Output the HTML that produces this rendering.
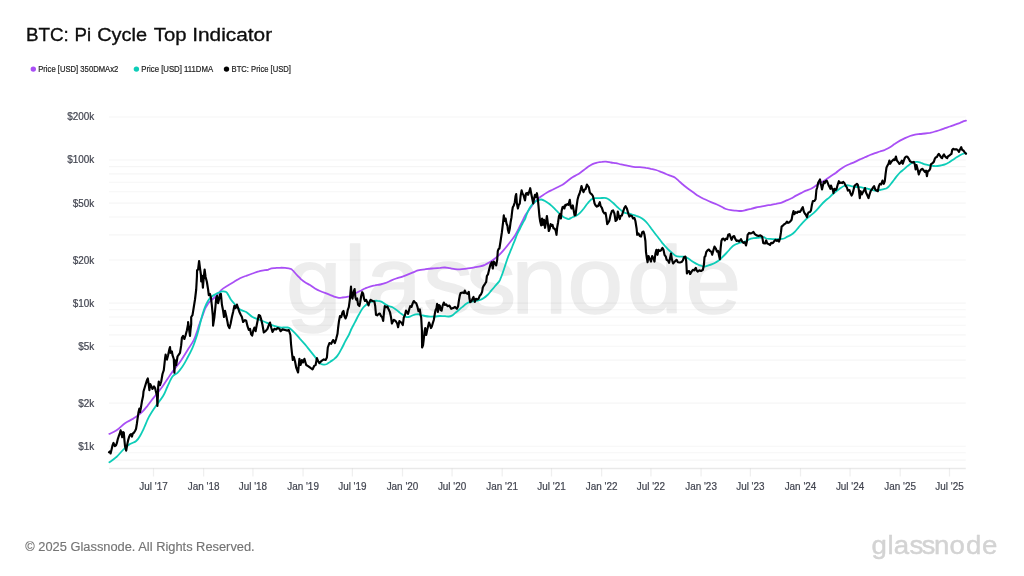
<!DOCTYPE html>
<html lang="en">
<head>
<meta charset="utf-8">
<title>BTC: Pi Cycle Top Indicator</title>
<style>
html,body{margin:0;padding:0;background:#fff;}
body{width:1024px;height:576px;overflow:hidden;position:relative;font-family:"Liberation Sans",Arial,sans-serif;}
#chart{position:absolute;left:0;top:0;width:1024px;height:576px;display:block;}
#chart text{font-family:"Liberation Sans",Arial,sans-serif;white-space:pre;}
</style>
</head>
<body>
<svg id="chart" width="1024" height="576" viewBox="0 0 1024 576">
<defs><filter id="soft" x="-5%" y="-5%" width="110%" height="110%"><feGaussianBlur stdDeviation="0.35"/></filter></defs>
<rect width="1024" height="576" fill="#fff"/>
<g filter="url(#soft)">
<g id="watermark">
<text transform="scale(1.05 1)" x="272.27 327.52 348.70 403.19 444.12 487.08 540.37 597.27 652.84" y="313.5" font-size="95" fill="#ededed" stroke="#ededed" stroke-width="1.6" stroke-linejoin="round">glassnode</text>
</g>
<g id="grid" stroke="#000" stroke-opacity="0.04" stroke-width="1.1">
<line x1="109" x2="965.8" y1="116.97" y2="116.97"/>
<line x1="109" x2="965.8" y1="160.05" y2="160.05"/>
<line x1="109" x2="965.8" y1="166.60" y2="166.60"/>
<line x1="109" x2="965.8" y1="173.92" y2="173.92"/>
<line x1="109" x2="965.8" y1="182.22" y2="182.22"/>
<line x1="109" x2="965.8" y1="191.80" y2="191.80"/>
<line x1="109" x2="965.8" y1="203.13" y2="203.13"/>
<line x1="109" x2="965.8" y1="217.00" y2="217.00"/>
<line x1="109" x2="965.8" y1="234.87" y2="234.87"/>
<line x1="109" x2="965.8" y1="260.07" y2="260.07"/>
<line x1="109" x2="965.8" y1="303.15" y2="303.15"/>
<line x1="109" x2="965.8" y1="309.70" y2="309.70"/>
<line x1="109" x2="965.8" y1="317.02" y2="317.02"/>
<line x1="109" x2="965.8" y1="325.32" y2="325.32"/>
<line x1="109" x2="965.8" y1="334.90" y2="334.90"/>
<line x1="109" x2="965.8" y1="346.23" y2="346.23"/>
<line x1="109" x2="965.8" y1="360.10" y2="360.10"/>
<line x1="109" x2="965.8" y1="377.97" y2="377.97"/>
<line x1="109" x2="965.8" y1="403.17" y2="403.17"/>
<line x1="109" x2="965.8" y1="446.25" y2="446.25"/>
<line x1="109" x2="965.8" y1="452.80" y2="452.80"/>
<line x1="109" x2="965.8" y1="460.12" y2="460.12"/>
</g>
<g id="ticks" stroke="#000" stroke-opacity="0.062" stroke-width="1.3">
<line x1="153.50" x2="153.50" y1="468.5" y2="476.5"/>
<line x1="203.63" x2="203.63" y1="468.5" y2="476.5"/>
<line x1="252.93" x2="252.93" y1="468.5" y2="476.5"/>
<line x1="303.06" x2="303.06" y1="468.5" y2="476.5"/>
<line x1="352.37" x2="352.37" y1="468.5" y2="476.5"/>
<line x1="402.49" x2="402.49" y1="468.5" y2="476.5"/>
<line x1="452.07" x2="452.07" y1="468.5" y2="476.5"/>
<line x1="502.20" x2="502.20" y1="468.5" y2="476.5"/>
<line x1="551.51" x2="551.51" y1="468.5" y2="476.5"/>
<line x1="601.63" x2="601.63" y1="468.5" y2="476.5"/>
<line x1="650.94" x2="650.94" y1="468.5" y2="476.5"/>
<line x1="701.06" x2="701.06" y1="468.5" y2="476.5"/>
<line x1="750.37" x2="750.37" y1="468.5" y2="476.5"/>
<line x1="800.50" x2="800.50" y1="468.5" y2="476.5"/>
<line x1="850.08" x2="850.08" y1="468.5" y2="476.5"/>
<line x1="900.20" x2="900.20" y1="468.5" y2="476.5"/>
<line x1="949.51" x2="949.51" y1="468.5" y2="476.5"/>
</g>
<g id="axis" stroke="#000" stroke-opacity="0.086" stroke-width="1.3">
<line x1="109" x2="965.8" y1="468.5" y2="468.5"/>
</g>
<g id="labels" transform="scale(0.955 1)" font-size="10.4" fill="#41444f" stroke="#41444f" stroke-width="0.2">
<text x="98.64" y="120.42" text-anchor="end">$200k</text>
<text x="98.64" y="163.50" text-anchor="end">$100k</text>
<text x="98.64" y="206.58" text-anchor="end">$50k</text>
<text x="98.64" y="263.52" text-anchor="end">$20k</text>
<text x="98.64" y="306.60" text-anchor="end">$10k</text>
<text x="98.64" y="349.68" text-anchor="end">$5k</text>
<text x="98.64" y="406.62" text-anchor="end">$2k</text>
<text x="98.64" y="449.70" text-anchor="end">$1k</text>
<text x="160.73" y="490.0" text-anchor="middle">Jul '17</text>
<text x="213.22" y="490.0" text-anchor="middle">Jan '18</text>
<text x="264.85" y="490.0" text-anchor="middle">Jul '18</text>
<text x="317.34" y="490.0" text-anchor="middle">Jan '19</text>
<text x="368.97" y="490.0" text-anchor="middle">Jul '19</text>
<text x="421.46" y="490.0" text-anchor="middle">Jan '20</text>
<text x="473.37" y="490.0" text-anchor="middle">Jul '20</text>
<text x="525.86" y="490.0" text-anchor="middle">Jan '21</text>
<text x="577.49" y="490.0" text-anchor="middle">Jul '21</text>
<text x="629.98" y="490.0" text-anchor="middle">Jan '22</text>
<text x="681.61" y="490.0" text-anchor="middle">Jul '22</text>
<text x="734.10" y="490.0" text-anchor="middle">Jan '23</text>
<text x="785.73" y="490.0" text-anchor="middle">Jul '23</text>
<text x="838.22" y="490.0" text-anchor="middle">Jan '24</text>
<text x="890.13" y="490.0" text-anchor="middle">Jul '24</text>
<text x="942.62" y="490.0" text-anchor="middle">Jan '25</text>
<text x="994.25" y="490.0" text-anchor="middle">Jul '25</text>
</g>
<g id="series" fill="none" stroke-linejoin="round" stroke-linecap="round">
<path stroke="#a950f5" stroke-width="1.8" d="M109.4 433.9 C110.5 433.3 113.6 432.4 116.2 430.6 C118.9 428.8 122.3 425.2 125.0 423.2 C127.7 421.3 130.4 420.4 132.5 419.1 C134.6 417.9 135.8 417.0 137.5 415.8 C139.2 414.5 140.8 413.3 142.5 411.6 C144.2 410.0 145.8 407.8 147.5 405.8 C149.2 403.7 151.2 400.7 152.5 399.1 C153.8 397.5 153.3 398.1 155.0 396.0 C156.7 393.9 160.0 390.0 162.5 386.5 C165.0 383.0 167.9 378.3 170.0 375.2 C172.1 372.2 173.1 370.9 175.0 368.4 C176.9 365.9 179.2 363.3 181.2 360.2 C183.3 357.2 185.4 353.6 187.5 350.2 C189.6 346.9 192.1 343.6 193.8 340.2 C195.4 336.9 196.6 333.0 197.5 330.2 C198.4 327.5 198.5 326.4 199.4 324.0 C200.2 321.6 201.6 318.3 202.5 315.8 C203.4 313.2 204.2 310.8 205.0 308.9 C205.8 307.0 206.7 305.8 207.5 304.5 C208.3 303.2 208.8 302.6 210.0 301.4 C211.2 300.1 213.1 298.9 215.0 297.0 C216.9 295.1 219.2 292.0 221.2 290.1 C223.3 288.2 225.4 287.1 227.5 285.8 C229.6 284.4 231.7 283.2 233.8 282.0 C235.8 280.8 237.9 279.3 240.0 278.2 C242.1 277.2 244.2 276.5 246.2 275.8 C248.3 275.0 250.4 274.2 252.5 273.5 C254.6 272.8 256.7 271.9 258.8 271.4 C260.8 270.8 263.5 270.4 265.0 270.1 C266.5 269.9 267.2 270.1 268.0 269.9 C268.8 269.7 268.8 269.0 270.0 268.8 C271.2 268.5 273.3 268.3 275.0 268.1 C276.7 268.0 278.3 267.8 280.0 267.8 C281.7 267.7 283.5 267.8 285.0 267.9 C286.5 268.0 287.7 268.2 288.8 268.4 C289.8 268.6 290.4 268.5 291.2 269.0 C292.1 269.5 292.7 270.4 293.8 271.5 C294.8 272.6 296.2 274.3 297.5 275.6 C298.8 276.9 300.0 278.3 301.2 279.4 C302.5 280.5 303.5 281.3 305.0 282.2 C306.5 283.2 308.3 284.0 310.0 285.0 C311.7 286.0 313.3 287.5 315.0 288.5 C316.7 289.5 318.3 290.3 320.0 291.0 C321.7 291.7 323.3 292.3 325.0 292.9 C326.7 293.5 328.3 294.1 330.0 294.8 C331.7 295.4 333.5 296.4 335.0 296.9 C336.5 297.4 337.5 297.6 338.8 297.8 C340.0 297.9 341.0 297.7 342.5 297.5 C344.0 297.3 346.8 296.9 348.0 296.6 C349.2 296.4 348.8 296.5 350.0 296.0 C351.2 295.5 353.3 294.3 355.0 293.5 C356.7 292.7 358.3 291.8 360.0 291.0 C361.7 290.2 363.3 289.2 365.0 288.5 C366.7 287.8 368.3 287.1 370.0 286.6 C371.7 286.1 373.3 285.7 375.0 285.4 C376.7 285.0 378.3 284.9 380.0 284.5 C381.7 284.1 383.3 283.8 385.0 283.2 C386.7 282.7 388.1 281.8 390.0 281.0 C391.9 280.2 394.2 279.2 396.2 278.5 C398.3 277.8 400.4 277.4 402.5 276.6 C404.6 275.9 406.7 275.0 408.8 274.1 C410.8 273.3 413.5 272.2 415.0 271.6 C416.5 271.0 416.3 270.8 418.0 270.4 C419.7 270.0 422.7 269.6 425.0 269.3 C427.3 269.0 429.5 268.7 432.0 268.5 C434.5 268.3 437.8 268.0 440.0 267.9 C442.2 267.7 443.3 267.4 445.0 267.5 C446.7 267.6 448.3 268.0 450.0 268.2 C451.7 268.5 453.3 268.9 455.0 269.1 C456.7 269.3 458.3 269.4 460.0 269.4 C461.7 269.3 463.3 269.1 465.0 268.9 C466.7 268.7 468.3 268.5 470.0 268.2 C471.7 268.0 473.3 267.6 475.0 267.2 C476.7 266.9 478.3 266.8 480.0 266.4 C481.7 266.0 483.3 265.5 485.0 264.8 C486.7 264.0 488.3 263.0 490.0 262.0 C491.7 261.0 493.3 259.8 495.0 258.5 C496.7 257.2 498.3 255.8 500.0 254.1 C501.7 252.5 503.3 250.5 505.0 248.5 C506.7 246.5 508.3 244.4 510.0 242.2 C511.7 240.1 513.5 237.7 515.0 235.4 C516.5 233.1 517.5 230.9 518.8 228.5 C520.0 226.1 521.4 223.3 522.5 221.0 C523.6 218.7 524.4 216.8 525.6 214.8 C526.9 212.7 528.6 210.5 530.0 208.5 C531.4 206.5 532.5 204.4 533.8 202.9 C535.0 201.3 536.0 200.4 537.5 199.1 C539.0 197.9 540.8 196.5 542.5 195.4 C544.2 194.2 545.8 193.2 547.5 192.2 C549.2 191.3 550.8 190.6 552.5 189.8 C554.2 188.9 555.8 188.1 557.5 187.2 C559.2 186.4 560.8 185.8 562.5 184.8 C564.2 183.7 565.8 182.2 567.5 181.0 C569.2 179.8 570.8 178.3 572.5 177.2 C574.2 176.2 575.8 175.5 577.5 174.5 C579.2 173.5 580.8 172.2 582.5 171.0 C584.2 169.8 585.8 168.4 587.5 167.2 C589.2 166.1 590.8 164.9 592.5 164.1 C594.2 163.3 595.9 162.9 597.5 162.5 C599.1 162.1 600.5 161.9 601.9 161.8 C603.3 161.6 604.5 161.5 606.0 161.6 C607.5 161.7 609.3 162.2 611.0 162.5 C612.7 162.8 614.3 162.8 616.0 163.1 C617.7 163.4 619.1 164.0 621.0 164.4 C622.9 164.8 625.2 165.2 627.2 165.6 C629.3 166.0 631.4 166.6 633.5 166.9 C635.6 167.2 637.7 167.1 639.8 167.2 C641.8 167.4 644.1 167.5 646.0 167.8 C647.9 168.0 649.3 168.4 651.0 168.8 C652.7 169.1 654.3 169.5 656.0 170.0 C657.7 170.5 659.3 171.2 661.0 171.9 C662.7 172.5 664.3 173.3 666.0 174.0 C667.7 174.7 669.5 175.3 671.0 175.9 C672.5 176.5 673.5 176.7 674.8 177.5 C676.0 178.3 677.0 179.4 678.5 180.6 C680.0 181.9 681.8 183.6 683.5 185.0 C685.2 186.4 686.8 187.8 688.5 189.0 C690.2 190.2 691.8 191.3 693.5 192.5 C695.2 193.7 696.8 195.0 698.5 196.0 C700.2 197.0 701.8 197.9 703.5 198.8 C705.2 199.6 706.8 200.3 708.5 201.0 C710.2 201.7 711.8 202.4 713.5 203.1 C715.2 203.8 716.8 204.4 718.5 205.2 C720.2 206.1 722.8 207.5 724.0 208.1 C725.2 208.7 724.8 208.6 726.0 209.0 C727.2 209.4 729.3 210.0 731.0 210.2 C732.7 210.5 734.3 210.5 736.0 210.6 C737.7 210.7 739.3 211.1 741.0 211.0 C742.7 210.9 744.3 210.4 746.0 210.0 C747.7 209.6 749.3 209.2 751.0 208.8 C752.7 208.3 754.3 207.9 756.0 207.5 C757.7 207.1 759.3 206.9 761.0 206.6 C762.7 206.3 764.3 205.9 766.0 205.6 C767.7 205.3 769.3 205.1 771.0 204.8 C772.7 204.4 774.3 204.1 776.0 203.8 C777.7 203.4 779.3 203.4 781.0 202.9 C782.7 202.4 784.3 201.3 786.0 200.6 C787.7 199.9 789.3 199.3 791.0 198.5 C792.7 197.7 794.3 196.5 796.0 195.6 C797.7 194.7 799.3 194.0 801.0 193.1 C802.7 192.3 804.3 191.3 806.0 190.6 C807.7 189.9 809.3 189.6 811.0 188.8 C812.7 187.9 814.3 186.7 816.0 185.6 C817.7 184.6 819.3 183.5 821.0 182.5 C822.7 181.5 824.3 180.5 826.0 179.4 C827.7 178.3 829.3 177.1 831.0 176.0 C832.7 174.9 834.5 173.9 836.0 172.8 C837.5 171.6 838.5 170.5 840.0 169.4 C841.5 168.3 843.3 167.1 845.0 166.2 C846.7 165.4 848.3 164.7 850.0 164.0 C851.7 163.3 853.3 162.7 855.0 161.9 C856.7 161.1 858.3 160.2 860.0 159.4 C861.7 158.6 863.3 158.0 865.0 157.2 C866.7 156.5 868.3 155.7 870.0 155.0 C871.7 154.3 873.3 153.7 875.0 153.1 C876.7 152.5 878.3 152.1 880.0 151.5 C881.7 150.9 883.3 150.5 885.0 149.8 C886.7 149.0 888.3 148.2 890.0 147.2 C891.7 146.2 893.3 144.9 895.0 143.8 C896.7 142.6 898.3 141.6 900.0 140.6 C901.7 139.7 903.3 138.9 905.0 138.1 C906.7 137.3 908.3 136.6 910.0 136.0 C911.7 135.4 913.3 135.0 915.0 134.6 C916.7 134.3 918.3 134.2 920.0 134.0 C921.7 133.8 923.3 133.7 925.0 133.5 C926.7 133.3 928.3 133.1 930.0 132.8 C931.7 132.4 933.3 132.0 935.0 131.5 C936.7 131.0 938.3 130.6 940.0 130.0 C941.7 129.4 943.3 128.7 945.0 128.1 C946.7 127.5 948.3 127.1 950.0 126.5 C951.7 125.9 953.3 125.2 955.0 124.6 C956.7 124.0 958.5 123.3 960.0 122.8 C961.5 122.2 962.8 121.6 963.8 121.2 C964.8 120.9 965.6 120.7 966.0 120.6"/>
<path stroke="#0ecdb8" stroke-width="1.8" d="M109.4 462.2 C110.5 461.4 113.9 459.4 116.2 457.2 C118.6 455.1 121.5 451.3 123.8 449.1 C126.0 446.9 127.9 445.5 130.0 444.1 C132.1 442.8 134.6 442.4 136.2 441.0 C137.9 439.6 138.8 438.1 140.0 436.0 C141.2 433.9 142.3 431.6 143.8 428.5 C145.2 425.4 146.9 420.8 148.8 417.2 C150.6 413.7 152.6 410.8 155.0 407.2 C157.4 403.7 161.0 399.5 163.1 396.0 C165.2 392.5 165.9 389.8 167.5 386.5 C169.1 383.2 170.8 378.8 172.5 376.5 C174.2 374.2 175.8 374.4 177.5 372.8 C179.2 371.1 180.8 369.0 182.5 366.5 C184.2 364.0 185.8 360.9 187.5 357.8 C189.2 354.6 191.0 351.1 192.5 347.8 C194.0 344.4 195.2 340.9 196.2 337.8 C197.3 334.6 198.1 331.3 198.8 329.0 C199.4 326.7 199.4 326.4 200.0 324.0 C200.6 321.6 201.7 317.3 202.5 314.5 C203.3 311.7 204.1 309.3 205.0 307.0 C205.9 304.7 207.1 302.4 208.1 300.8 C209.2 299.1 210.1 298.0 211.2 297.0 C212.4 296.0 213.8 295.2 215.0 294.5 C216.2 293.8 217.5 293.1 218.8 292.6 C220.0 292.1 221.2 291.5 222.5 291.4 C223.8 291.3 225.2 291.3 226.2 292.0 C227.3 292.7 227.9 294.4 228.8 295.8 C229.6 297.1 230.2 298.7 231.2 300.1 C232.3 301.6 233.5 302.9 235.0 304.5 C236.5 306.1 238.1 308.2 240.0 309.5 C241.9 310.8 244.2 310.8 246.2 312.0 C248.3 313.2 250.4 315.8 252.5 317.0 C254.6 318.2 256.7 318.7 258.8 319.5 C260.8 320.3 263.5 321.4 265.0 322.0 C266.5 322.6 267.2 322.9 268.0 323.2 C268.8 323.6 268.8 323.9 270.0 324.4 C271.2 324.9 273.3 325.7 275.0 326.2 C276.7 326.8 278.1 327.3 280.0 327.5 C281.9 327.7 284.7 327.4 286.2 327.5 C287.8 327.6 287.9 327.2 289.4 328.1 C290.8 329.1 293.2 331.3 295.0 333.1 C296.8 334.9 298.3 336.9 300.0 338.8 C301.7 340.6 303.3 342.4 305.0 344.4 C306.7 346.4 308.3 348.5 310.0 350.6 C311.7 352.7 313.6 355.1 315.0 356.9 C316.4 358.7 317.2 360.1 318.1 361.2 C319.1 362.4 319.7 363.2 320.6 363.8 C321.6 364.3 322.7 364.6 323.8 364.6 C324.8 364.7 325.8 364.5 326.9 364.0 C327.9 363.5 328.9 362.6 330.0 361.9 C331.1 361.1 332.5 360.4 333.8 359.4 C335.0 358.3 336.2 357.3 337.5 355.6 C338.8 354.0 340.0 351.7 341.2 349.4 C342.5 347.1 343.8 344.3 345.0 341.9 C346.2 339.5 347.6 337.3 348.8 335.0 C349.9 332.7 350.8 330.1 351.9 328.0 C352.9 325.9 353.9 324.5 355.0 322.2 C356.1 320.0 357.5 317.0 358.8 314.8 C360.0 312.5 361.2 310.2 362.5 308.5 C363.8 306.8 365.0 305.8 366.2 304.8 C367.5 303.7 368.8 302.9 370.0 302.2 C371.2 301.6 372.5 301.2 373.8 301.0 C375.0 300.8 376.2 300.6 377.5 300.8 C378.8 300.9 380.0 301.1 381.2 301.6 C382.5 302.2 383.8 303.4 385.0 304.1 C386.2 304.9 387.5 305.5 388.8 306.0 C390.0 306.5 391.2 306.6 392.5 307.2 C393.8 307.9 395.0 308.8 396.2 309.8 C397.5 310.7 398.8 311.9 400.0 312.9 C401.2 313.8 402.7 314.7 403.8 315.4 C404.8 316.1 405.2 316.8 406.2 317.0 C407.3 317.2 408.8 317.0 410.0 316.6 C411.2 316.2 412.4 315.2 413.8 314.8 C415.1 314.3 416.8 314.1 418.0 314.1 C419.2 314.2 420.1 314.7 421.2 315.0 C422.4 315.3 423.5 315.7 425.0 316.0 C426.5 316.3 428.3 316.5 430.0 316.6 C431.7 316.7 433.3 316.6 435.0 316.5 C436.7 316.4 438.3 316.0 440.0 316.0 C441.7 316.0 443.5 316.2 445.0 316.2 C446.5 316.3 447.6 316.6 448.8 316.5 C449.9 316.4 450.8 316.2 451.9 315.6 C452.9 315.1 453.9 314.1 455.0 313.1 C456.1 312.2 457.5 311.0 458.8 310.0 C460.0 309.0 461.2 307.9 462.5 306.9 C463.8 305.8 465.0 304.6 466.2 303.8 C467.5 302.9 468.5 302.3 470.0 301.9 C471.5 301.4 473.3 301.3 475.0 301.0 C476.7 300.7 478.5 300.5 480.0 300.0 C481.5 299.5 482.5 299.0 483.8 298.1 C485.0 297.3 486.2 296.2 487.5 295.0 C488.8 293.8 490.0 292.1 491.2 290.6 C492.5 289.2 493.8 287.7 495.0 286.2 C496.2 284.8 497.9 283.0 498.8 281.9 C499.6 280.8 499.4 281.1 500.0 279.8 C500.6 278.4 501.7 275.8 502.5 273.5 C503.3 271.2 504.2 268.5 505.0 266.0 C505.8 263.5 506.7 260.8 507.5 258.5 C508.3 256.2 509.2 254.3 510.0 252.2 C510.8 250.2 511.7 248.1 512.5 246.0 C513.3 243.9 514.2 241.8 515.0 239.8 C515.8 237.7 516.7 235.4 517.5 233.5 C518.3 231.6 519.2 230.2 520.0 228.5 C520.8 226.8 521.7 225.1 522.5 223.5 C523.3 221.9 524.3 220.6 525.0 219.1 C525.7 217.7 525.8 216.5 526.5 214.8 C527.2 213.0 528.4 210.3 529.4 208.5 C530.4 206.7 531.4 205.4 532.5 204.1 C533.6 202.9 535.4 201.6 536.2 201.0 C537.1 200.4 536.7 200.6 537.5 200.4 C538.3 200.1 540.0 199.4 541.2 199.5 C542.5 199.6 543.8 200.3 545.0 201.0 C546.2 201.7 547.5 202.6 548.8 203.5 C550.0 204.4 551.2 205.5 552.5 206.6 C553.8 207.8 555.0 209.1 556.2 210.4 C557.5 211.6 558.8 213.0 560.0 214.1 C561.2 215.3 562.5 216.5 563.8 217.2 C565.0 218.0 566.7 218.4 567.5 218.8 C568.3 219.1 567.9 219.4 568.8 219.1 C569.6 218.9 571.2 217.8 572.5 217.2 C573.8 216.7 575.0 216.5 576.2 215.8 C577.5 215.0 578.8 214.1 580.0 212.9 C581.2 211.7 582.5 210.1 583.8 208.5 C585.0 206.9 586.2 205.0 587.5 203.5 C588.8 202.0 590.0 200.4 591.2 199.5 C592.5 198.6 593.5 198.5 595.0 198.2 C596.5 198.0 598.1 198.1 600.0 198.1 C601.9 198.1 604.6 197.7 606.2 198.1 C607.9 198.5 608.8 199.5 610.0 200.4 C611.2 201.3 612.5 202.4 613.8 203.5 C615.0 204.6 616.2 206.1 617.5 207.2 C618.8 208.4 620.0 209.4 621.2 210.4 C622.5 211.3 623.8 212.4 625.0 212.9 C626.2 213.4 627.5 213.2 628.8 213.5 C630.0 213.8 631.2 214.4 632.5 214.8 C633.8 215.1 635.0 215.3 636.2 215.8 C637.5 216.2 638.8 216.6 640.0 217.2 C641.2 217.9 642.5 218.7 643.8 219.8 C645.0 220.8 646.2 222.0 647.5 223.5 C648.8 225.0 650.0 226.8 651.2 228.5 C652.5 230.2 653.9 232.0 655.0 233.5 C656.1 235.0 656.8 235.7 658.0 237.2 C659.2 238.8 660.9 241.2 662.2 242.9 C663.6 244.5 664.8 245.9 666.0 247.2 C667.2 248.6 668.5 249.9 669.8 251.0 C671.0 252.1 672.5 253.3 673.5 254.1 C674.5 255.0 675.0 255.6 676.0 256.0 C677.0 256.4 678.5 256.5 679.8 256.6 C681.0 256.7 682.2 256.4 683.5 256.6 C684.8 256.8 686.0 257.3 687.2 257.9 C688.5 258.5 689.8 259.5 691.0 260.4 C692.2 261.2 693.5 262.2 694.8 262.9 C696.0 263.6 697.2 264.2 698.5 264.8 C699.8 265.3 701.2 265.7 702.2 266.0 C703.3 266.3 703.7 266.7 704.8 266.6 C705.8 266.5 707.2 265.8 708.5 265.4 C709.8 265.0 711.0 264.6 712.2 264.1 C713.5 263.6 714.8 263.0 716.0 262.2 C717.2 261.5 718.5 260.8 719.8 259.8 C721.0 258.7 722.2 257.2 723.5 256.0 C724.8 254.8 726.0 253.6 727.2 252.2 C728.5 250.9 729.8 249.1 731.0 247.9 C732.2 246.6 733.5 245.5 734.8 244.8 C736.0 244.0 737.2 243.7 738.5 243.2 C739.8 242.8 741.0 242.6 742.2 242.2 C743.5 241.9 744.8 241.5 746.0 241.0 C747.2 240.5 748.5 239.6 749.8 239.1 C751.0 238.7 752.2 238.5 753.5 238.2 C754.8 238.0 756.0 238.0 757.2 237.9 C758.5 237.8 759.9 237.6 761.0 237.5 C762.1 237.4 763.1 237.1 764.0 237.2 C764.9 237.4 765.2 238.2 766.2 238.5 C767.2 238.8 768.5 238.8 770.0 238.9 C771.5 239.0 773.3 239.1 775.0 239.1 C776.7 239.2 778.5 239.2 780.0 239.1 C781.5 239.0 782.5 238.9 783.8 238.5 C785.0 238.1 786.2 237.2 787.5 236.6 C788.8 236.0 790.0 235.6 791.2 234.8 C792.5 233.9 793.8 232.9 795.0 231.6 C796.2 230.4 797.5 228.7 798.8 227.2 C800.0 225.8 801.2 224.2 802.5 222.9 C803.8 221.5 805.0 220.3 806.2 219.1 C807.5 218.0 808.8 217.0 810.0 216.0 C811.2 215.0 812.5 214.0 813.8 212.9 C815.0 211.7 816.2 210.5 817.5 209.1 C818.8 207.8 820.0 206.1 821.2 204.8 C822.5 203.4 823.8 202.1 825.0 201.0 C826.2 199.9 827.3 199.1 828.8 197.9 C830.2 196.6 832.1 194.7 833.5 193.5 C834.9 192.3 836.0 191.6 837.2 190.6 C838.5 189.7 839.9 188.5 841.0 187.8 C842.1 187.0 842.9 186.4 844.0 186.0 C845.1 185.6 846.3 185.2 847.5 185.2 C848.7 185.3 850.0 186.0 851.2 186.2 C852.5 186.5 853.5 186.7 855.0 186.9 C856.5 187.0 858.3 187.0 860.0 187.2 C861.7 187.5 863.5 187.8 865.0 188.1 C866.5 188.4 867.5 188.7 868.8 189.0 C870.0 189.3 871.2 189.7 872.5 190.0 C873.8 190.3 875.0 190.6 876.2 190.6 C877.5 190.6 878.8 190.2 880.0 190.0 C881.2 189.8 882.7 189.4 883.8 189.1 C884.8 188.9 885.4 188.9 886.2 188.5 C887.1 188.1 887.7 187.6 888.8 186.5 C889.8 185.4 891.2 183.5 892.5 181.9 C893.8 180.3 895.0 178.4 896.2 176.9 C897.5 175.3 898.8 173.8 900.0 172.5 C901.2 171.2 902.5 170.4 903.8 169.4 C905.0 168.3 906.4 167.2 907.5 166.2 C908.6 165.3 909.6 164.4 910.6 163.8 C911.7 163.1 912.6 162.6 913.8 162.2 C914.9 161.9 916.2 161.8 917.5 161.9 C918.8 162.0 920.0 162.5 921.2 162.9 C922.5 163.3 923.5 164.0 925.0 164.4 C926.5 164.8 928.5 165.1 930.0 165.4 C931.5 165.7 932.5 165.9 933.8 166.0 C935.0 166.1 936.2 166.1 937.5 166.0 C938.8 165.9 940.0 165.7 941.2 165.4 C942.5 165.1 943.8 164.9 945.0 164.4 C946.2 163.9 947.5 163.2 948.8 162.5 C950.0 161.8 951.2 160.8 952.5 160.0 C953.8 159.2 955.0 158.3 956.2 157.5 C957.5 156.7 958.8 155.9 960.0 155.2 C961.2 154.6 962.8 153.9 963.8 153.5 C964.8 153.1 965.6 153.2 966.0 153.1"/>
<path stroke="#000" stroke-width="2.15" d="M109.0 452.2 L109.8 451.5 L110.6 453.5 L111.5 449.8 L112.5 445.4 L113.5 442.9 L114.8 446.2 L116.0 445.4 L116.9 442.9 L117.8 439.1 L118.8 436.0 L119.8 433.5 L120.6 430.4 L121.5 433.5 L122.2 437.2 L123.1 432.0 L123.8 432.5 L124.4 439.8 L125.0 446.0 L125.6 448.5 L126.2 450.6 L127.2 444.8 L128.1 440.4 L129.0 437.2 L130.0 434.8 L131.0 434.1 L131.9 436.6 L132.8 433.5 L133.8 432.9 L135.0 431.0 L136.0 429.1 L136.9 423.5 L137.5 419.1 L138.5 412.2 L139.4 408.5 L140.0 412.2 L141.0 407.2 L141.9 401.6 L143.1 396.0 L143.5 391.5 L145.0 386.5 L146.9 380.2 L147.8 378.4 L148.8 385.2 L149.4 390.2 L150.2 384.0 L151.2 385.9 L152.5 389.0 L154.0 386.5 L155.0 387.8 L156.2 392.8 L157.0 396.0 L157.4 405.9 L157.9 396.0 L158.2 386.5 L158.8 381.5 L160.0 385.2 L161.2 381.5 L162.5 374.0 L163.8 370.2 L165.0 359.0 L165.6 354.6 L166.9 359.6 L168.1 355.2 L169.4 349.0 L170.0 347.1 L170.6 352.8 L171.9 351.5 L172.5 355.2 L173.8 359.0 L174.4 372.8 L175.0 360.2 L176.2 365.2 L177.5 356.5 L178.8 354.6 L180.0 352.8 L181.2 345.2 L181.9 337.8 L183.1 335.9 L184.4 339.0 L185.6 335.2 L186.9 330.2 L188.1 324.0 L188.1 322.0 L190.0 335.9 L190.6 329.0 L191.2 324.0 L191.2 317.0 L192.5 315.1 L193.8 307.0 L195.0 299.5 L196.2 289.5 L196.9 277.0 L197.1 270.1 L198.1 269.5 L199.1 261.0 L200.0 268.2 L200.9 274.5 L201.2 281.4 L202.1 275.8 L202.9 287.6 L203.8 277.0 L204.6 269.5 L205.6 277.0 L206.9 282.0 L208.1 289.5 L208.8 295.1 L210.0 293.9 L211.0 298.2 L211.9 305.8 L212.8 315.8 L213.1 325.6 L214.4 317.0 L215.4 307.0 L216.2 298.2 L217.1 295.8 L218.1 303.2 L219.0 299.5 L220.0 294.5 L220.9 293.9 L221.9 304.5 L223.1 310.8 L224.0 317.0 L225.0 310.8 L226.2 315.8 L227.5 322.0 L228.1 325.6 L229.4 328.1 L230.6 323.8 L231.9 317.0 L233.1 312.0 L234.4 305.8 L235.6 308.2 L236.9 304.5 L238.1 308.2 L239.4 312.0 L240.6 314.5 L241.9 317.0 L243.1 322.0 L245.0 320.1 L246.2 320.8 L247.5 326.2 L248.8 330.0 L250.0 328.8 L251.2 334.4 L252.2 335.6 L253.1 331.2 L254.4 327.5 L255.6 331.2 L256.5 326.2 L257.5 321.2 L258.8 315.0 L260.0 315.6 L261.2 319.4 L262.5 325.0 L263.8 332.5 L265.6 331.2 L267.5 328.8 L268.8 325.0 L270.0 322.5 L271.2 327.5 L272.5 331.9 L274.4 328.8 L276.2 329.4 L277.5 328.1 L279.4 328.8 L280.6 331.2 L282.5 329.4 L285.0 330.0 L287.5 330.6 L288.8 330.0 L290.4 335.0 L291.0 343.8 L291.9 352.5 L292.8 360.0 L293.8 356.9 L295.0 361.2 L296.2 367.5 L298.1 372.5 L299.4 358.8 L300.6 365.0 L301.9 360.0 L303.1 362.5 L304.4 358.8 L306.2 365.0 L308.1 366.2 L310.0 367.5 L312.5 369.4 L314.4 365.6 L315.6 365.0 L316.9 358.1 L318.1 361.2 L319.4 363.1 L321.2 361.2 L323.8 359.4 L325.6 360.0 L326.9 357.5 L327.8 347.5 L329.4 343.1 L331.2 343.8 L333.1 340.0 L334.8 343.1 L336.2 338.8 L337.5 333.8 L338.1 328.0 L339.0 321.0 L340.0 316.0 L341.2 317.2 L342.5 312.2 L343.5 311.0 L344.4 316.0 L345.6 318.5 L346.9 314.8 L347.8 309.8 L348.8 307.2 L349.8 299.8 L350.4 293.5 L351.0 286.6 L351.6 297.2 L352.5 298.5 L353.5 292.2 L354.6 289.1 L355.4 297.2 L356.2 299.8 L357.1 298.5 L358.1 304.8 L359.4 306.0 L360.2 302.2 L361.2 296.0 L362.2 292.2 L363.1 293.5 L364.0 298.5 L365.0 301.0 L366.2 299.8 L367.5 302.9 L368.5 305.4 L369.4 302.2 L370.6 299.8 L372.5 301.0 L374.4 301.6 L375.2 306.0 L376.0 314.8 L377.2 315.4 L378.5 314.1 L379.8 313.5 L381.0 316.0 L382.2 317.2 L383.2 321.0 L384.0 312.2 L384.8 306.0 L386.2 307.2 L387.5 306.6 L388.8 309.8 L390.0 312.2 L391.0 317.2 L391.9 323.5 L393.8 319.8 L395.6 321.0 L397.2 323.5 L398.1 327.2 L399.4 321.0 L401.2 322.5 L402.8 325.0 L403.8 317.5 L405.0 315.0 L406.0 310.6 L407.2 312.5 L408.1 313.8 L409.4 308.8 L410.2 306.2 L411.5 306.9 L412.5 303.8 L413.8 301.0 L415.0 302.5 L416.2 303.1 L417.5 306.9 L418.5 311.2 L419.8 309.4 L420.6 315.0 L421.2 317.5 L421.9 330.0 L422.1 347.5 L423.1 345.0 L423.8 338.8 L424.4 332.5 L425.2 328.1 L426.2 335.0 L427.2 330.0 L428.1 326.2 L429.0 322.5 L430.0 325.0 L431.0 328.1 L431.9 326.2 L432.8 323.1 L433.8 320.0 L434.8 313.8 L435.6 310.0 L436.5 308.1 L437.1 303.8 L437.9 311.9 L438.8 305.0 L439.8 305.6 L440.6 310.0 L441.6 310.6 L442.5 306.2 L443.8 302.5 L445.0 305.0 L446.2 304.4 L447.5 306.2 L449.4 305.6 L451.2 308.8 L453.1 308.1 L455.0 306.9 L456.9 308.8 L458.1 306.2 L459.0 300.0 L459.8 295.6 L460.6 293.1 L462.5 292.5 L464.0 293.1 L464.8 290.6 L466.0 293.1 L467.5 293.8 L468.8 291.9 L469.5 298.8 L470.2 302.2 L471.5 301.2 L472.5 298.8 L473.5 296.9 L474.8 301.9 L475.9 298.8 L477.2 299.4 L478.5 298.8 L479.8 295.6 L481.0 294.4 L482.1 291.9 L482.8 287.5 L483.8 285.6 L485.0 283.8 L486.2 281.9 L486.9 276.0 L488.1 274.1 L489.4 268.5 L490.6 264.1 L491.9 262.2 L492.8 268.5 L493.8 261.6 L495.0 263.5 L496.2 265.4 L497.2 259.8 L497.8 251.0 L498.5 249.1 L499.4 248.5 L500.6 241.0 L501.9 232.2 L503.1 222.2 L503.8 215.4 L504.6 221.0 L505.6 218.5 L506.5 223.5 L507.5 226.0 L507.9 229.8 L508.8 232.9 L509.8 228.5 L510.6 222.2 L511.5 217.2 L512.2 211.0 L512.8 207.2 L513.8 205.4 L514.8 202.2 L515.6 196.0 L516.2 194.1 L516.9 203.5 L517.9 208.5 L518.8 204.8 L519.8 203.5 L520.6 196.0 L521.6 190.4 L522.5 193.5 L523.4 194.8 L524.4 198.5 L525.0 200.4 L526.0 193.5 L527.2 192.9 L528.1 194.8 L529.1 192.2 L530.2 188.2 L531.2 193.5 L532.2 198.5 L533.2 203.5 L534.1 198.5 L535.0 194.8 L535.9 197.2 L536.9 193.2 L537.8 198.5 L538.5 206.0 L539.4 216.0 L540.2 221.6 L541.2 225.4 L542.1 218.5 L543.1 224.8 L544.0 219.8 L545.0 227.9 L546.0 222.2 L546.9 216.0 L547.8 222.9 L548.8 231.0 L549.8 228.5 L550.6 224.1 L551.6 226.0 L552.5 224.8 L553.5 228.5 L554.6 228.5 L555.6 230.4 L556.5 234.8 L557.2 227.2 L558.1 222.2 L559.0 216.0 L560.0 214.1 L560.9 218.5 L561.6 211.0 L562.5 207.2 L563.5 206.6 L564.4 208.5 L565.4 204.8 L566.2 205.4 L567.2 204.1 L568.5 204.8 L569.8 199.8 L570.6 206.0 L571.6 208.5 L572.8 205.4 L573.8 211.0 L574.6 215.4 L575.6 214.8 L576.5 207.2 L577.5 199.8 L578.5 196.0 L579.6 193.5 L580.6 189.8 L581.5 186.0 L582.5 189.8 L583.5 192.2 L584.4 189.8 L585.6 189.1 L586.9 184.5 L587.8 186.0 L588.8 187.2 L589.8 192.2 L590.6 193.5 L591.6 194.1 L592.9 196.0 L593.8 199.8 L594.6 203.5 L595.6 205.4 L596.9 206.6 L598.1 206.0 L599.8 202.2 L600.6 206.0 L601.9 207.9 L603.1 211.6 L604.4 213.5 L605.6 212.9 L606.5 218.5 L607.2 224.1 L608.5 222.2 L609.4 220.4 L610.6 214.8 L611.9 211.0 L613.1 210.4 L614.4 213.5 L615.6 221.0 L616.9 219.8 L617.8 211.6 L618.8 216.0 L619.8 219.1 L620.6 216.0 L621.9 215.4 L623.1 211.6 L624.4 207.9 L625.6 206.2 L626.9 208.5 L628.1 212.9 L629.4 216.6 L630.6 215.4 L631.9 216.0 L633.1 218.5 L634.4 217.9 L635.4 221.0 L636.6 228.5 L637.2 234.8 L638.5 233.5 L639.8 236.0 L641.0 236.6 L642.2 232.2 L643.5 231.6 L644.5 234.8 L645.4 241.0 L646.0 252.2 L646.9 258.5 L647.6 262.2 L648.5 256.0 L649.8 259.1 L651.0 261.6 L652.2 256.0 L653.5 258.5 L654.5 261.6 L655.4 253.5 L656.4 249.8 L657.5 254.8 L658.5 249.8 L659.8 251.0 L661.0 250.4 L662.5 247.9 L663.5 249.8 L664.5 254.8 L665.8 256.6 L666.6 259.8 L667.9 260.4 L669.1 262.9 L670.0 258.5 L671.0 253.5 L672.0 259.8 L673.1 263.5 L674.8 261.6 L676.6 259.8 L677.9 262.2 L679.8 262.5 L681.6 262.0 L682.9 260.4 L683.9 257.2 L685.4 256.6 L686.2 261.0 L686.9 273.5 L687.9 271.6 L689.1 271.0 L690.1 274.1 L691.6 271.6 L692.9 269.8 L694.1 270.4 L695.8 267.9 L696.6 270.4 L697.9 271.6 L699.1 270.4 L701.0 271.0 L702.9 269.8 L703.9 264.8 L704.5 257.2 L705.4 256.0 L706.2 252.2 L707.5 250.4 L708.8 249.5 L710.0 251.0 L711.2 251.6 L712.2 254.8 L713.5 249.8 L714.5 246.6 L715.8 248.5 L717.0 251.6 L718.1 251.0 L719.1 256.0 L719.8 259.1 L720.6 248.5 L721.4 241.0 L722.2 239.1 L723.5 238.5 L724.8 240.4 L726.0 238.5 L727.2 239.1 L728.2 234.8 L729.5 234.1 L730.6 237.2 L731.6 239.8 L732.9 236.6 L734.1 236.0 L735.4 239.1 L736.6 241.0 L737.9 240.4 L739.1 241.6 L741.0 239.1 L742.2 241.6 L743.5 242.9 L744.8 242.2 L746.0 245.4 L747.0 241.0 L747.6 234.8 L749.1 232.9 L750.4 233.5 L752.0 232.9 L753.5 232.0 L754.8 234.1 L756.6 235.4 L758.5 236.0 L760.4 235.4 L762.2 236.6 L763.2 242.9 L763.4 243.2 L765.0 243.5 L766.2 240.4 L767.2 243.5 L768.8 244.1 L770.0 245.0 L771.2 242.9 L772.8 243.2 L774.4 241.0 L775.6 239.8 L776.9 240.8 L778.1 239.8 L779.0 241.6 L780.0 238.5 L781.0 232.2 L781.6 226.6 L783.1 225.4 L784.4 224.1 L785.6 223.5 L786.9 221.6 L788.1 222.9 L789.4 222.2 L790.6 221.0 L791.6 219.8 L792.5 214.8 L793.5 211.0 L794.4 214.1 L795.6 212.2 L796.9 212.9 L798.1 211.6 L799.8 212.0 L801.0 210.4 L801.9 208.5 L802.8 207.2 L803.8 211.6 L804.8 213.5 L805.9 214.8 L806.9 217.2 L807.9 213.5 L808.8 212.2 L810.0 212.0 L811.0 210.4 L811.9 204.8 L812.9 201.0 L814.4 201.0 L815.6 199.1 L815.8 196.9 L816.4 190.0 L817.2 187.5 L818.2 182.5 L819.1 181.2 L820.0 179.4 L820.8 183.8 L821.4 186.2 L822.0 189.4 L822.9 185.6 L823.8 181.9 L824.8 183.1 L825.6 181.2 L826.6 180.6 L827.6 182.5 L828.5 185.0 L829.5 186.9 L830.4 188.8 L831.0 185.6 L832.0 188.1 L832.9 190.0 L833.5 193.1 L834.5 188.8 L835.8 190.0 L836.6 188.8 L837.6 185.0 L838.9 181.2 L839.8 183.1 L841.0 182.5 L842.2 183.1 L843.2 181.9 L844.4 183.1 L845.6 185.6 L846.9 187.5 L847.9 190.6 L849.4 190.0 L850.4 193.1 L851.6 195.6 L852.5 193.8 L853.5 190.0 L854.6 185.6 L855.6 185.0 L856.9 183.8 L857.9 185.0 L858.8 189.4 L859.8 198.1 L860.6 191.2 L861.9 194.4 L863.1 191.9 L864.4 189.4 L865.0 188.1 L866.0 192.5 L867.2 195.0 L868.5 198.1 L869.4 195.0 L870.6 191.2 L871.9 189.4 L873.1 187.5 L874.1 186.2 L875.2 189.4 L876.5 190.6 L877.8 191.2 L878.8 186.2 L880.0 183.8 L881.2 184.4 L882.5 180.6 L883.8 183.8 L884.8 181.2 L885.6 173.8 L886.5 167.5 L887.5 165.6 L888.5 163.8 L889.4 160.6 L890.2 163.8 L891.2 161.9 L892.5 160.6 L893.8 159.4 L894.8 160.0 L895.9 156.5 L896.9 160.6 L898.1 161.9 L899.4 163.8 L900.6 163.1 L901.9 160.6 L902.8 163.8 L903.8 160.6 L905.0 157.5 L906.2 156.5 L907.5 156.9 L908.8 158.8 L910.0 161.2 L911.2 161.9 L912.5 162.5 L913.8 161.9 L914.8 164.4 L915.6 169.4 L916.5 165.0 L917.5 168.8 L918.8 174.4 L920.0 171.2 L921.2 169.4 L922.5 168.8 L923.8 170.6 L925.0 171.9 L926.0 170.6 L926.9 176.2 L927.8 171.2 L929.1 170.6 L930.2 168.8 L930.9 164.4 L932.5 163.1 L933.8 161.9 L934.8 158.8 L935.6 157.5 L936.9 156.9 L937.9 155.0 L938.8 153.8 L940.0 155.6 L941.2 157.5 L942.1 158.1 L943.1 155.6 L944.0 154.4 L945.0 156.2 L946.2 157.5 L947.2 158.1 L948.1 156.2 L949.4 155.6 L950.6 154.4 L951.5 153.8 L952.2 150.0 L953.1 148.8 L954.4 149.4 L955.6 149.4 L956.9 149.4 L958.1 150.6 L959.0 151.9 L960.0 149.4 L961.2 147.2 L962.2 150.0 L963.5 150.6 L964.4 151.9 L965.4 153.1 L966.0 153.8"/>
</g>
<text id="title" y="41.4" font-size="18.9" fill="#0a0a0a" stroke="#0a0a0a" stroke-width="0.3"><tspan x="26.0" textLength="42.85" lengthAdjust="spacingAndGlyphs">BTC:</tspan> <tspan x="74.6" textLength="16.60" lengthAdjust="spacingAndGlyphs">Pi</tspan> <tspan x="97.2" textLength="49.90" lengthAdjust="spacingAndGlyphs">Cycle</tspan> <tspan x="153.8" textLength="32.70" lengthAdjust="spacingAndGlyphs">Top</tspan> <tspan x="192.2" textLength="79.90" lengthAdjust="spacingAndGlyphs">Indicator</tspan></text>
<g id="legend">
<circle cx="33.3" cy="69.1" r="2.7" fill="#a950f5"/>
<text x="38.2" y="71.9" font-size="8.3" fill="#1e1e1e" stroke="#1e1e1e" stroke-width="0.2" textLength="80.10" lengthAdjust="spacingAndGlyphs">Price [USD] 350DMAx2</text>
<circle cx="136.4" cy="69.1" r="2.7" fill="#0ecdb8"/>
<text x="141.3" y="71.9" font-size="8.3" fill="#1e1e1e" stroke="#1e1e1e" stroke-width="0.2" textLength="71.85" lengthAdjust="spacingAndGlyphs">Price [USD] 111DMA</text>
<circle cx="226.5" cy="69.1" r="2.7" fill="#000"/>
<text x="231.6" y="71.9" font-size="8.3" fill="#1e1e1e" stroke="#1e1e1e" stroke-width="0.2" textLength="59.30" lengthAdjust="spacingAndGlyphs">BTC: Price [USD]</text>
</g>
<text id="copyright" x="25.3" y="550.5" font-size="12.85" fill="#747474" stroke="#747474" stroke-width="0.15">© 2025 Glassnode. All Rights Reserved.</text>
<g id="logo">
<text transform="scale(1.05 1)" x="829.99 845.28 851.14 866.22 877.55 889.43 904.18 919.92 935.30" y="553.9" font-size="26.3" fill="#d3d3d3" stroke="#d3d3d3" stroke-width="0.45" stroke-linejoin="round">glassnode</text>
</g>
</g>
</svg>
</body>
</html>
